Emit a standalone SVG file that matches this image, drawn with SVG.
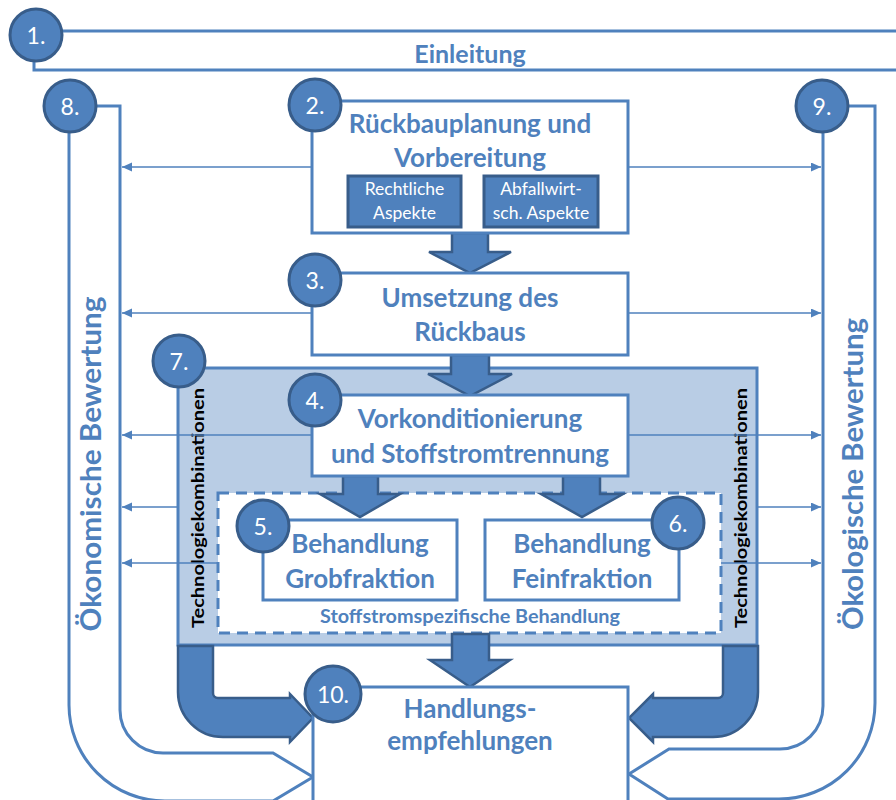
<svg xmlns="http://www.w3.org/2000/svg" width="896" height="800" viewBox="0 0 896 800">
<style>
text{font-family:Lato,"Open Sans","Liberation Sans",sans-serif}
.box{fill:#fff;stroke:#4F81BD;stroke-width:3}
.num{fill:#4F81BD;stroke:#385D8A;stroke-width:3}
.numt{fill:#fff;font-size:23px;text-anchor:middle}
.title{fill:#4F81BD;font-size:26px;font-weight:bold;text-anchor:middle}
.sub{fill:#4F81BD;stroke:#385D8A;stroke-width:3}
.subt{fill:#fff;font-size:17.5px;text-anchor:middle}
.ln{fill:none;stroke:#4F81BD;stroke-width:3}
.thin{fill:none;stroke:#4F81BD;stroke-width:1.5;marker-end:url(#ah)}
.blk{fill:#4F81BD;stroke:#385D8A;stroke-width:2.5;stroke-linejoin:miter}
.vt{fill:#4F81BD;font-size:29px;font-weight:bold;text-anchor:middle}
.tk{fill:#000;font-size:17px;font-weight:bold;text-anchor:middle}
</style>
<defs>
<marker id="ah" markerUnits="userSpaceOnUse" markerWidth="12" markerHeight="10" refX="10" refY="4.5" orient="auto">
<path d="M0,0 L10,4.5 L0,9 Z" fill="#4F81BD"/>
</marker>
</defs>

<g id="n7">
<rect x="178" y="368" width="579" height="277" fill="#B9CDE5" stroke="#4F81BD" stroke-width="3"/>
<rect x="218" y="493" width="503" height="140" fill="#fff" stroke="#4F81BD" stroke-width="3" stroke-dasharray="11,7"/>
<text class="title" x="470" y="623" style="font-size:18px" textLength="300" lengthAdjust="spacingAndGlyphs">Stoffstromspezifische Behandlung</text>
<text class="tk" transform="translate(204,508) rotate(-90)" textLength="240" lengthAdjust="spacingAndGlyphs">Technologiekombinationen</text>
<text class="tk" transform="translate(747,508) rotate(-90)" textLength="240" lengthAdjust="spacingAndGlyphs">Technologiekombinationen</text>
<circle class="num" cx="179" cy="361" r="26"/>
<text class="numt" x="179" y="370">7.</text>
</g>

<g id="connectors">
<line class="thin" x1="312" y1="167" x2="122" y2="167"/>
<line class="thin" x1="312" y1="313" x2="122" y2="313"/>
<line class="thin" x1="312" y1="435" x2="122" y2="435"/>
<line class="thin" x1="178" y1="507" x2="122" y2="507"/>
<line class="thin" x1="218" y1="563" x2="122" y2="563"/>
<line class="thin" x1="628" y1="167" x2="821" y2="167"/>
<line class="thin" x1="628" y1="313" x2="821" y2="313"/>
<line class="thin" x1="628" y1="435" x2="821" y2="435"/>
<line class="thin" x1="757" y1="507" x2="821" y2="507"/>
<line class="thin" x1="721" y1="563" x2="821" y2="563"/>
<path class="blk" d="M452,233 H488 V252 H511 L470,273 L429,252 H452 Z"/>
<path class="blk" d="M451,355 H489 V374 H512 L470,396 L428,374 H451 Z"/>
<path class="blk" d="M343,476 H378 V494 H400 L360,517 L320,494 H343 Z"/>
<path class="blk" d="M563,476 H600 V494 H623 L582,517 L541,494 H563 Z"/>
<path class="blk" d="M452,634 H489 V660 H510 L470,687 L430,660 H452 Z"/>
<path class="blk" d="M178,646 H213 V693 A5,5 0 0 0 218,698 H290 V694 L313,718 L290,742 V737 H223 A45,45 0 0 1 178,692 Z"/>
<path class="blk" d="M758,646 H723 V693 A5,5 0 0 1 718,698 H653 V694 L629,718 L653,742 V737 H713 A45,45 0 0 0 758,692 Z"/>
</g>

<g id="n1">
<path class="ln" d="M61,31 H896 M34,60 V70 H896"/>
<text class="title" x="470" y="63" style="font-size:25px">Einleitung</text>
<circle class="num" cx="36" cy="35" r="26"/>
<text class="numt" x="36" y="44">1.</text>
</g>

<g id="n8">
<path class="ln" d="M96,106 H120 V710 A43,43 0 0 0 163,753 H273 L313,777 L273,801 H165 A96,96 0 0 1 69,705 V130"/>
<text class="vt" transform="translate(101,464) rotate(-90)" textLength="335" lengthAdjust="spacingAndGlyphs">Ökonomische Bewertung</text>
<circle class="num" cx="70" cy="106" r="26"/>
<text class="numt" x="70" y="115">8.</text>
</g>

<g id="n9">
<path class="ln" d="M848,106 H875 V703 A96,96 0 0 1 779,799 H668 L629,774 L669,749 H780 A43,43 0 0 0 823,706 V130"/>
<text class="vt" transform="translate(863,474) rotate(-90)" textLength="312" lengthAdjust="spacingAndGlyphs">Ökologische Bewertung</text>
<circle class="num" cx="822" cy="106" r="26"/>
<text class="numt" x="822" y="115">9.</text>
</g>

<g id="n2">
<rect class="box" x="312" y="101" width="316" height="132"/>
<text class="title" x="470" y="133">Rückbauplanung und</text>
<text class="title" x="470" y="167">Vorbereitung</text>
<rect class="sub" x="348" y="176" width="113" height="51"/>
<text class="subt" x="404.5" y="195">Rechtliche</text>
<text class="subt" x="404.5" y="219">Aspekte</text>
<rect class="sub" x="484" y="176" width="114" height="51"/>
<text class="subt" x="541" y="195">Abfallwirt-</text>
<text class="subt" x="541" y="219">sch. Aspekte</text>
<circle class="num" cx="315" cy="105" r="26"/>
<text class="numt" x="315" y="114">2.</text>
</g>

<g id="n3">
<rect class="box" x="312" y="273" width="316" height="82"/>
<text class="title" x="470" y="307">Umsetzung des</text>
<text class="title" x="470" y="341">Rückbaus</text>
<circle class="num" cx="315" cy="280" r="26"/>
<text class="numt" x="315" y="289">3.</text>
</g>

<g id="n4">
<rect class="box" x="312" y="395" width="316" height="81"/>
<text class="title" x="470" y="428">Vorkonditionierung</text>
<text class="title" x="470" y="463">und Stoffstromtrennung</text>
<circle class="num" cx="315" cy="400" r="26"/>
<text class="numt" x="315" y="409">4.</text>
</g>

<g id="n5">
<rect class="box" x="263" y="520" width="194" height="80"/>
<text class="title" x="360" y="553">Behandlung</text>
<text class="title" x="360" y="588">Grobfraktion</text>
<circle class="num" cx="263" cy="526" r="26"/>
<text class="numt" x="263" y="535">5.</text>
</g>

<g id="n6">
<rect class="box" x="485" y="520" width="194" height="80"/>
<text class="title" x="582" y="553">Behandlung</text>
<text class="title" x="582" y="588">Feinfraktion</text>
<circle class="num" cx="678" cy="523" r="26"/>
<text class="numt" x="678" y="532">6.</text>
</g>

<g id="n10">
<rect class="box" x="313" y="687" width="315" height="125"/>
<text class="title" x="470" y="718">Handlungs-</text>
<text class="title" x="470" y="750">empfehlungen</text>
<circle class="num" cx="333" cy="694" r="28"/>
<text class="numt" x="333" y="703">10.</text>
</g>
</svg>
